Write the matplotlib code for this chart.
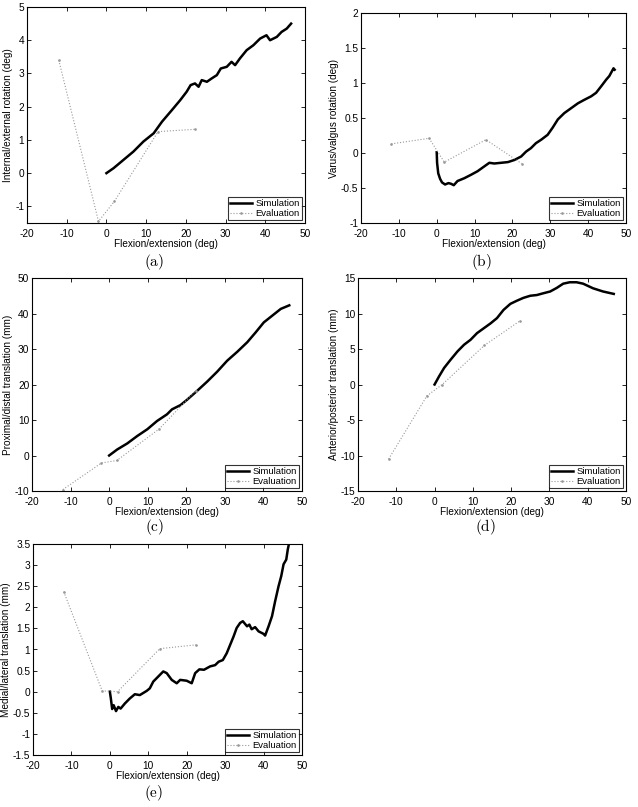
import numpy as np
import matplotlib
matplotlib.use('Agg')
from matplotlib import pyplot as plt

plt.rcParams['font.family'] = ['Liberation Sans', 'DejaVu Sans']
plt.rcParams['mathtext.fontset'] = 'cm'
plt.rcParams['axes.unicode_minus'] = False

# flexion angles of the evaluation points (deg)
eval_x = [-12, -2, 2, 13, 22.4]

# (a) internal/external rotation
sim_a_x = [0, 1.8, 4.3, 6.8, 9.3, 11.9, 14.0, 16.5, 18.6, 20.2, 21.2, 22.3, 23.2, 24.0,
           25.3, 26.5, 27.8, 28.8, 30.3, 31.5, 32.4, 33.6, 35.3, 37.0, 38.7, 40.3, 41.2,
           42.9, 44.1, 45.4, 46.5]
sim_a_y = [0, 0.15, 0.4, 0.65, 0.95, 1.2, 1.55, 1.9, 2.2, 2.45, 2.65, 2.7, 2.6, 2.8,
           2.75, 2.85, 2.95, 3.15, 3.2, 3.35, 3.25, 3.45, 3.7, 3.85, 4.05, 4.15, 4.0,
           4.1, 4.25, 4.35, 4.5]
eval_a_y = [3.4, -1.45, -0.85, 1.25, 1.32]

# (b) varus/valgus rotation
sim_b_x = [0, 0.1, 0.4, 0.9, 1.4, 2.2, 3.1, 3.8, 4.5, 5.5, 7.3, 9.1, 10.8, 12.6, 13.9,
           15.2, 17.0, 18.8, 20.5, 22.3, 23.6, 24.9, 26.2, 27.6, 29.3, 30.6, 32.0, 33.7,
           35.5, 37.3, 39.0, 40.8, 42.1, 43.4, 44.8, 45.6, 46.3, 46.7, 47.0]
sim_b_y = [0.01, -0.14, -0.29, -0.37, -0.42, -0.45, -0.43, -0.44, -0.46, -0.40, -0.36,
           -0.31, -0.26, -0.19, -0.14, -0.15, -0.14, -0.13, -0.10, -0.05, 0.02, 0.07,
           0.14, 0.19, 0.26, 0.36, 0.48, 0.57, 0.64, 0.71, 0.76, 0.81, 0.86, 0.95, 1.05,
           1.1, 1.17, 1.21, 1.19]
eval_b_y = [0.13, 0.21, -0.13, 0.19, -0.15]

# (c) proximal/distal translation
sim_c_x = [0, 2.1, 4.7, 7.3, 9.9, 12.4, 15.0, 16.3, 18.5, 20.2, 22.8, 25.4, 28.0, 30.6,
           33.2, 35.8, 38.0, 40.1, 42.3, 44.5, 46.7]
sim_c_y = [0, 1.7, 3.4, 5.5, 7.4, 9.7, 11.6, 13.0, 14.2, 15.7, 18.2, 20.8, 23.6, 26.7,
           29.2, 31.9, 34.7, 37.5, 39.4, 41.3, 42.3]
eval_c_y = [-9.6, -2.1, -1.4, 7.5, 18.2]

# (d) anterior/posterior translation
sim_d_x = [0, 1.2, 2.5, 4.2, 6.0, 7.7, 9.4, 11.1, 12.9, 14.6, 16.3, 18.0, 19.8, 21.5,
           23.2, 25.0, 26.7, 28.4, 30.2, 31.9, 33.6, 35.3, 37.1, 38.8, 41.4, 44.0, 46.8]
sim_d_y = [0, 1.17, 2.34, 3.5, 4.67, 5.6, 6.3, 7.24, 7.94, 8.6, 9.35, 10.5, 11.36, 11.8,
           12.2, 12.5, 12.6, 12.85, 13.1, 13.6, 14.2, 14.4, 14.4, 14.2, 13.55, 13.1, 12.76]
eval_d_y = [-10.5, -1.6, 0.0, 5.5, 9.0]

# (e) medial/lateral translation
sim_e_x = [0, 0.26, 0.6, 1.0, 1.6, 2.2, 2.8, 3.9, 5.2, 6.5, 7.8, 9.6, 10.4, 11.3, 12.6,
           13.9, 14.8, 16.1, 17.4, 18.3, 20.0, 21.3, 22.2, 23.3, 24.5, 26.1, 27.4, 28.3,
           29.4, 30.4, 31.3, 32.2, 33.0, 33.9, 34.6, 35.7, 36.3, 36.9, 37.8, 38.7, 40.0,
           40.4, 41.3, 42.2, 43.0, 43.9, 44.6, 45.2, 45.9, 46.3, 46.6, 47.0]
sim_e_y = [0, -0.16, -0.41, -0.32, -0.46, -0.36, -0.4, -0.28, -0.16, -0.06, -0.08, 0.02,
           0.08, 0.24, 0.36, 0.48, 0.44, 0.28, 0.2, 0.28, 0.26, 0.2, 0.44, 0.53, 0.52, 0.6,
           0.63, 0.71, 0.75, 0.91, 1.11, 1.31, 1.51, 1.63, 1.67, 1.55, 1.59, 1.48, 1.53,
           1.43, 1.37, 1.33, 1.55, 1.79, 2.14, 2.5, 2.74, 3.02, 3.13, 3.37, 3.5, 3.75]
eval_e_y = [2.37, 0.02, 0.0, 1.02, 1.11]

panels = [
    ('(a)', sim_a_x, sim_a_y, eval_a_y, 'Internal/external rotation (deg)',
     (-1.5, 5), np.arange(-1, 5.1, 1), [27, 7, 305, 223], (154, 262)),
    ('(b)', sim_b_x, sim_b_y, eval_b_y, 'Varus/valgus rotation (deg)',
     (-1, 2), np.arange(-1, 2.1, 0.5), [361, 13, 626, 223], (481, 262)),
    ('(c)', sim_c_x, sim_c_y, eval_c_y, 'Proximal/distal translation (mm)',
     (-10, 50), np.arange(-10, 51, 10), [32, 278, 302, 491], (155, 527)),
    ('(d)', sim_d_x, sim_d_y, eval_d_y, 'Anterior/posterior translation (mm)',
     (-15, 15), np.arange(-15, 16, 5), [358, 278, 626, 491], (485, 527)),
    ('(e)', sim_e_x, sim_e_y, eval_e_y, 'Medial/lateral translation (mm)',
     (-1.5, 3.5), np.arange(-1.5, 3.6, 0.5), [33, 544, 302, 755], (154, 793)),
]

W, H = 638, 807
fig = plt.figure(figsize=(W / 100, H / 100), dpi=100)

for tag, sx, sy, ey, ylab, ylim, yticks, box, cap in panels:
    l, t, r, b = box
    ax = fig.add_axes([l / W, 1 - b / H, (r - l) / W, (b - t) / H])
    ax.plot(sx, sy, '-', color='black', lw=1.8, label='Simulation')
    ax.plot(eval_x, ey, ':', color='0.6', lw=0.8, marker='.', ms=1.8,
            label='Evaluation')
    ax.set_xlim(-20, 50)
    ax.set_ylim(*ylim)
    ax.set_xticks(np.arange(-20, 51, 10))
    ax.set_yticks(yticks)
    ax.set_yticklabels(['%g' % v for v in yticks])
    ax.tick_params(direction='in', top=True, right=True, length=3, width=0.6,
                   labelsize=7.3)
    ax.tick_params(axis='x', pad=4)
    ax.tick_params(axis='y', pad=2)
    for s in ax.spines.values():
        s.set_linewidth(0.8)
    ax.set_xlabel('Flexion/extension (deg)', fontsize=7.2, labelpad=0)
    ax.set_ylabel(ylab, fontsize=7.2, labelpad=1.5)
    leg = ax.legend(loc='lower right', fontsize=6.8, frameon=True, fancybox=False,
                    borderpad=0.25, labelspacing=0.1, handlelength=2.3,
                    handletextpad=0.4, borderaxespad=0.3)
    leg.get_frame().set_edgecolor('black')
    leg.get_frame().set_linewidth(0.8)
    fig.text(cap[0] / W, 1 - cap[1] / H, r'$\mathrm{%s}$' % tag, fontsize=11,
             ha='center', va='center')

fig.savefig('out.png', dpi=100)
